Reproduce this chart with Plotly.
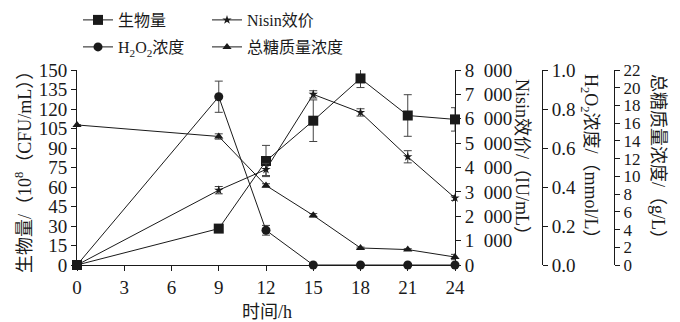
import plotly.graph_objects as go

# ---- data ----
time_h = [0, 9, 12, 15, 18, 21, 24]
biomass = [0, 28, 80, 111, 143.5, 115, 112]
biomass_err = [0, 2, 12, 16, 7, 16, 9]
nisin = [0, 3070, 3920, 7000, 6260, 4440, 2750]
nisin_err = [0, 150, 250, 150, 150, 250, 100]
h2o2 = [0, 0.863, 0.178, 0, 0, 0, 0]
h2o2_err = [0, 0.08, 0.025, 0, 0, 0, 0]
sugar = [15.8, 14.5, 8.97, 5.6, 1.92, 1.74, 0.9]
sugar_err = [0, 0.3, 0.2, 0.2, 0.1, 0.1, 0.3]

x_ticks = [0, 3, 6, 9, 12, 15, 18, 21, 24]
left_ticks = list(range(0, 151, 15))
nisin_ticks = list(range(0, 8001, 1000))
nisin_ticktext = ["0"] + [f"{v // 1000}\u2002000" for v in nisin_ticks[1:]]
h2o2_ticks = [0.0, 0.2, 0.4, 0.6, 0.8, 1.0]
sugar_ticks = list(range(0, 23, 2))

W, H = 680, 322
TOP, BOT = 70, 265
PH = BOT - TOP
FONT = "Liberation Serif, Times New Roman, Noto Sans CJK SC, serif"
FS = 18
TFS = 19
LFS = 16
INK = "#1a1a1a"


def px_x(px):
    return px / W


def px_y(py):
    return (BOT - py) / PH


fig = go.Figure()


def add(name, y, err, axis, symbol, size, legend):
    fig.add_trace(go.Scatter(
        x=time_h, y=y, name=name, yaxis=axis, mode="lines+markers",
        line=dict(color=INK, width=1),
        marker=dict(symbol=symbol, size=size, color=INK),
        error_y=dict(type="data", array=err, color="#444", thickness=1, width=4),
        cliponaxis=False, legend=legend,
    ))


add("生物量", biomass, biomass_err, "y", "square", 10, "legend")
add("H<sub>2</sub>O<sub>2</sub>浓度", h2o2, h2o2_err, "y3", "circle", 9, "legend3")
add("Nisin效价", nisin, nisin_err, "y2", "star", 7, "legend2")
add("总糖质量浓度", sugar, sugar_err, "y4", "triangle-up", 8, "legend4")


def axis_style(size=TFS):
    return dict(
        showline=True, linecolor=INK, linewidth=1, ticks="outside", ticklen=5,
        tickcolor=INK, tickwidth=1, showgrid=False, zeroline=False,
        tickfont=dict(family=FONT, size=size, color=INK),
    )


legend_common = dict(
    xanchor="left", yanchor="top", orientation="v",
    bgcolor="rgba(0,0,0,0)", itemwidth=30, tracegroupgap=0,
    font=dict(family=FONT, size=LFS, color=INK),
)

ROW1, ROW2 = 3, 30
COL1, COL2 = 78, 207

fig.update_layout(
    width=W, height=H,
    margin=dict(l=0, r=0, t=TOP, b=H - BOT, autoexpand=False),
    paper_bgcolor="white", plot_bgcolor="white",
    font=dict(family=FONT, size=FS, color=INK),
    xaxis=dict(domain=[px_x(77), px_x(455)], range=[0, 24], tickvals=x_ticks,
               anchor="y", **axis_style()),
    yaxis=dict(range=[0, 150], tickvals=left_ticks, anchor="x", **axis_style()),
    yaxis2=dict(range=[0, 8000], tickvals=nisin_ticks, ticktext=nisin_ticktext,
                overlaying="y", side="right", anchor="x", **axis_style()),
    yaxis3=dict(range=[0, 1.0], tickvals=h2o2_ticks, tickformat=".1f",
                overlaying="y", side="right", anchor="free", position=px_x(542),
                **axis_style()),
    yaxis4=dict(range=[0, 22], tickvals=sugar_ticks,
                overlaying="y", side="right", anchor="free", position=px_x(614),
                **axis_style(17)),
    legend=dict(x=px_x(COL1), y=px_y(ROW1), **legend_common),
    legend2=dict(x=px_x(COL2), y=px_y(ROW1), **legend_common),
    legend3=dict(x=px_x(COL1), y=px_y(ROW2), **legend_common),
    legend4=dict(x=px_x(COL2), y=px_y(ROW2), **legend_common),
    showlegend=True,
)

ann = dict(xref="paper", yref="paper", showarrow=False,
           xanchor="center", yanchor="middle",
           font=dict(family=FONT, size=FS, color=INK))
fig.add_annotation(text="生物量/（10<sup>8</sup>（CFU/mL））", x=px_x(23), y=px_y(168),
                   textangle=-90, **ann)
fig.add_annotation(text="Nisin效价/（IU/mL）", x=px_x(522), y=px_y(161),
                   textangle=90, **ann)
fig.add_annotation(text="H<sub>2</sub>O<sub>2</sub>浓度/（mmol/L）", x=px_x(590),
                   y=px_y(161), textangle=90, **ann)
fig.add_annotation(text="总糖质量浓度/（g/L）", x=px_x(658), y=px_y(161),
                   textangle=90, **ann)
fig.add_annotation(text="时间/h", x=px_x(267), y=px_y(312), **ann)

fig.write_html("out.html",
               config={"displayModeBar": False},
               post_script="document.body.style.margin='0';"
                           "document.body.style.overflow='hidden';")
